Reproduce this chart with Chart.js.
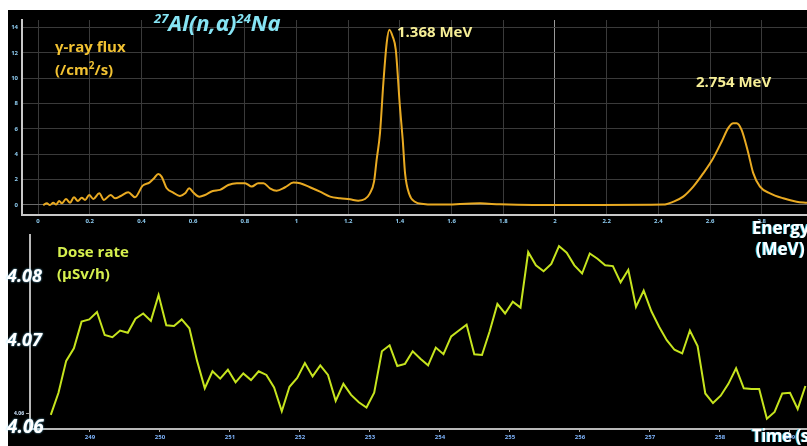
<!DOCTYPE html>
<html>
<head>
<meta charset="utf-8">
<script src="https://cdn.jsdelivr.net/npm/chart.js@4.4.1/dist/chart.umd.min.js"></script>
<style>
    html, body { margin: 0; padding: 0; }
    body { width: 807px; height: 446px; background: #fff; position: relative; overflow: hidden; font-family: "Open Sans", Lato, sans-serif; }
    .panel { position: absolute; background: #000; }
    .box { position: absolute; }
    .note { position: absolute; font-weight: bold; white-space: nowrap; line-height: 1; }
</style>
</head>
<body>
<div class="panel" style="left:8px; top:10px; width:799px; height:436px;"></div>
<div class="box" style="left:8px; top:10px; width:799px; height:220px;"><canvas id="spectrumChart"></canvas></div>
<div class="box" style="left:8px; top:230px; width:799px; height:216px;"><canvas id="doseChart"></canvas></div>

<div class="note" style="left:154px; top:11px; font-size:22px; font-style:italic; color:#86e4f4;"><sup style="font-size:13px;">27</sup>Al(n,α)<sup style="font-size:13px;">24</sup>Na</div>
<div class="note" style="left:55px; top:39px; font-size:15px; color:#f2c232;">γ-ray flux</div>
<div class="note" style="left:55px; top:60px; font-size:15px; color:#f2c232;">(/cm<sup style="font-size:10px;">2</sup>/s)</div>
<div class="note" style="left:397px; top:24px; font-size:15px; color:#f6ee96;">1.368 MeV</div>
<div class="note" style="left:696px; top:74px; font-size:15px; color:#f6ee96;">2.754 MeV</div>
<div class="note" style="left:752px; top:219px; font-size:17px; color:#fff; text-shadow:-1px 0 #3cc8e8;">Energy</div>
<div class="note" style="left:756px; top:240px; font-size:17px; color:#fff; text-shadow:-1px 0 #3cc8e8;">(MeV)</div>
<div class="note" style="left:57px; top:244px; font-size:15px; color:#d6f04e;">Dose rate</div>
<div class="note" style="left:57px; top:266px; font-size:15px; color:#d6f04e;">(µSv/h)</div>
<div class="note" style="left:7px; top:266px; font-size:18px; font-style:italic; color:#fff; text-shadow:0 0 2px #7fd8ff;">4.08</div>
<div class="note" style="left:7px; top:330px; font-size:18px; font-style:italic; color:#fff; text-shadow:0 0 2px #7fd8ff;">4.07</div>
<div class="note" style="left:7px; top:417px; font-size:19px; font-style:italic; color:#fff; text-shadow:0 0 2px #7fd8ff;">4.06</div>
<div class="note" style="left:752px; top:427px; font-size:17px; letter-spacing:-0.5px; color:#fff; text-shadow:-1px 0 #3cc8e8;">Time (s)</div>

<script>
// gamma-ray spectrum (upper panel)
const energyMeV = [0.02, 0.034, 0.046, 0.059, 0.07, 0.082, 0.092, 0.108, 0.124, 0.139, 0.154, 0.169, 0.182, 0.198, 0.214, 0.237, 0.255, 0.281, 0.298, 0.32,
    0.349, 0.375, 0.405, 0.431, 0.449, 0.465, 0.478, 0.498, 0.523, 0.549, 0.569, 0.585, 0.601, 0.624, 0.646, 0.676, 0.704, 0.736, 0.769, 0.801,
    0.827, 0.852, 0.872, 0.897, 0.923, 0.956, 0.988, 1.014, 1.052, 1.091, 1.13, 1.168, 1.207, 1.239, 1.265, 1.284, 1.3, 1.31, 1.323, 1.336,
    1.349, 1.359, 1.372, 1.384, 1.40, 1.411, 1.42, 1.436, 1.458, 1.491, 1.529, 1.594, 1.633, 1.71, 1.787, 1.915, 2.174, 2.419, 2.458, 2.496,
    2.535, 2.574, 2.612, 2.645, 2.67, 2.69, 2.703, 2.722, 2.748, 2.767, 2.793, 2.832, 2.883, 2.935, 2.975];
const gammaFlux = [0, 0.13, 0, 0.18, 0.03, 0.32, 0.13, 0.47, 0.18, 0.61, 0.32, 0.58, 0.4, 0.79, 0.47, 0.92, 0.4, 0.79, 0.53, 0.71,
    1.0, 0.61, 1.53, 1.77, 2.11, 2.45, 2.24, 1.32, 0.98, 0.71, 0.92, 1.32, 0.98, 0.66, 0.79, 1.11, 1.19, 1.58, 1.72, 1.72,
    1.45, 1.72, 1.72, 1.32, 1.13, 1.4, 1.77, 1.72, 1.4, 1.05, 0.66, 0.53, 0.45, 0.34, 0.47, 0.92, 1.84, 3.56, 5.67, 9.63,
    12.8, 13.84, 13.3, 12.26, 7.78, 5.14, 2.5, 0.87, 0.26, 0.08, 0.03, 0.03, 0.08, 0.13, 0.05, 0, 0, 0.03, 0.26, 0.66,
    1.45, 2.51, 3.69, 5.01, 6.07, 6.46, 6.46, 5.93, 4.09, 2.51, 1.45, 0.92, 0.53, 0.26, 0.18];
const energyTicks = [0, 0.2, 0.4, 0.6, 0.8, 1, 1.2, 1.4, 1.6, 1.8, 2, 2.2, 2.4, 2.6, 2.8];
const fluxTicks = [0, 2, 4, 6, 8, 10, 12, 14];

// dose rate over time (lower panel)
const timeSec = [248.44, 248.55, 248.66, 248.77, 248.88, 248.99, 249.10, 249.21, 249.32, 249.43, 249.54, 249.65, 249.76, 249.87, 249.98, 250.09, 250.20, 250.31, 250.42, 250.53,
    250.64, 250.75, 250.86, 250.97, 251.08, 251.19, 251.30, 251.41, 251.52, 251.63, 251.74, 251.85, 251.96, 252.07, 252.18, 252.29, 252.40, 252.51, 252.62, 252.73,
    252.84, 252.95, 253.06, 253.17, 253.28, 253.39, 253.50, 253.61, 253.72, 253.83, 253.94, 254.05, 254.16, 254.27, 254.38, 254.49, 254.60, 254.71, 254.82, 254.93,
    255.04, 255.15, 255.26, 255.37, 255.48, 255.59, 255.70, 255.81, 255.92, 256.03, 256.14, 256.25, 256.36, 256.47, 256.58, 256.69, 256.80, 256.91, 257.02, 257.13,
    257.24, 257.35, 257.46, 257.57, 257.68, 257.79, 257.90, 258.01, 258.12, 258.23, 258.34, 258.45, 258.56, 258.67, 258.78, 258.89, 259.00, 259.11, 259.22];
const doseRate = [4.0598, 4.0628, 4.0671, 4.0688, 4.0724, 4.0727, 4.0737, 4.0706, 4.0703, 4.0712, 4.0709, 4.0728, 4.0735, 4.0725, 4.0760, 4.0719, 4.0718, 4.0727, 4.0715, 4.0671,
    4.0634, 4.0657, 4.0647, 4.0659, 4.0642, 4.0654, 4.0645, 4.0657, 4.0652, 4.0635, 4.0603, 4.0636, 4.0648, 4.0668, 4.0650, 4.0665, 4.0652, 4.0617, 4.0640, 4.0625,
    4.0615, 4.0608, 4.0628, 4.0684, 4.0692, 4.0664, 4.0667, 4.0684, 4.0674, 4.0665, 4.0689, 4.0680, 4.0704, 4.0712, 4.0720, 4.0680, 4.0679, 4.0711, 4.0748, 4.0735,
    4.0751, 4.0743, 4.0818, 4.0800, 4.0792, 4.0802, 4.0826, 4.0817, 4.0800, 4.0789, 4.0816, 4.0809, 4.0800, 4.0799, 4.0777, 4.0794, 4.0744, 4.0766, 4.0738, 4.0717,
    4.0699, 4.0686, 4.0681, 4.0712, 4.0691, 4.0627, 4.0614, 4.0624, 4.0640, 4.0661, 4.0634, 4.0633, 4.0633, 4.0593, 4.0602, 4.0627, 4.0628, 4.0606, 4.0637];
const timeTicks = [249, 250, 251, 252, 253, 254, 255, 256, 257, 258, 259];
const doseTicks = [4.06];

function fixedTicks(values) {
    return function (scale) {
        scale.ticks = values.map(function (v) { return { value: v }; });
    };
}

function pairUp(xs, ys) {
    return xs.map(function (x, i) { return { x: x, y: ys[i] }; });
}

function plainNumber(value) {
    return String(Number(value.toFixed(2)));
}

Chart.defaults.font.family = '"Open Sans", Lato, sans-serif';
Chart.defaults.animation = false;

new Chart(document.getElementById('spectrumChart'), {
    type: 'line',
    data: {
        datasets: [{
            data: pairUp(energyMeV, gammaFlux),
            borderColor: '#e9aa22',
            borderWidth: 2,
            pointRadius: 0,
            cubicInterpolationMode: 'monotone'
        }]
    },
    options: {
        responsive: true,
        maintainAspectRatio: false,
        layout: { padding: { top: 10, right: 0, left: 0, bottom: 0 } },
        plugins: { legend: { display: false }, tooltip: { enabled: false } },
        scales: {
            x: {
                type: 'linear',
                min: -0.062,
                max: 2.975,
                afterBuildTicks: fixedTicks(energyTicks),
                afterFit: function (scale) { scale.height = 15; },
                grid: {
                    color: function (ctx) { return ctx.tick && ctx.tick.value === 2 ? '#9a9a9a' : '#3a3a3a'; },
                    drawTicks: false
                },
                border: { color: '#c8c8c8', width: 2 },
                ticks: { color: '#8fcdf2', font: { size: 6, weight: 'bold' }, padding: 3, maxRotation: 0, callback: plainNumber }
            },
            y: {
                min: -0.79,
                max: 14.6,
                afterBuildTicks: fixedTicks(fluxTicks),
                afterFit: function (scale) { scale.width = 14; },
                grid: {
                    color: function (ctx) { return ctx.tick && ctx.tick.value === 0 ? '#6a6a6a' : '#3a3a3a'; },
                    drawTicks: false
                },
                border: { color: '#c8c8c8', width: 2 },
                ticks: { color: '#8fcdf2', font: { size: 6, weight: 'bold' }, padding: 4, callback: plainNumber }
            }
        }
    }
});

new Chart(document.getElementById('doseChart'), {
    type: 'line',
    data: {
        datasets: [{
            data: pairUp(timeSec, doseRate),
            borderColor: '#c6e41e',
            borderWidth: 2,
            pointRadius: 0,
            tension: 0
        }]
    },
    options: {
        responsive: true,
        maintainAspectRatio: false,
        layout: { padding: { top: 2, right: 0, left: 0, bottom: 0 } },
        plugins: { legend: { display: false }, tooltip: { enabled: false } },
        scales: {
            x: {
                type: 'linear',
                min: 248.143,
                max: 259.243,
                afterBuildTicks: fixedTicks(timeTicks),
                afterFit: function (scale) { scale.height = 17; },
                grid: { drawOnChartArea: false, drawTicks: true, tickLength: 3, tickColor: '#a8a8a8' },
                border: { color: '#b8b8b8', width: 2 },
                ticks: { color: '#7fb6ff', font: { size: 6, weight: 'bold' }, padding: 2, maxRotation: 0, callback: plainNumber }
            },
            y: {
                min: 4.0579,
                max: 4.0841,
                afterBuildTicks: fixedTicks(doseTicks),
                afterFit: function (scale) { scale.width = 22; },
                grid: { drawOnChartArea: false, drawTicks: true, tickLength: 4, tickColor: '#a8a8a8' },
                border: { color: '#b8b8b8', width: 2 },
                ticks: { color: '#cfe6ff', font: { size: 5, weight: 'bold' }, padding: 2, callback: plainNumber }
            }
        }
    }
});
</script>
</body>
</html>
